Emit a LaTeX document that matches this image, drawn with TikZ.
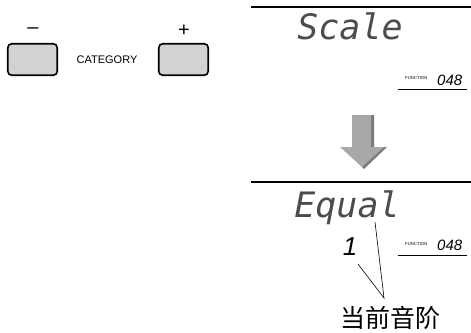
\documentclass[tikz,border=0pt]{standalone}
\usepackage{fontspec}
\setmainfont{Liberation Sans}
\newfontfamily\lcdfont{DejaVu Sans Mono}
\newfontfamily\cjk{Noto Sans CJK SC}
\usetikzlibrary{positioning}
\definecolor{btngray}{HTML}{D2D2D2}
\definecolor{arrowgray}{HTML}{A8A8A8}
\definecolor{arrowshade}{HTML}{7A7A7A}

\begin{document}
\begin{tikzpicture}[x=1pt, y=-1pt,
    btn/.style={draw, fill=btngray, line width=1.6pt, rounded corners=4pt,
                minimum width=49.5pt, minimum height=31.5pt},
    sign/.style={font=\fontsize{20}{20}\selectfont, inner sep=0pt},
    lcd/.style={text=black!70, font=\lcdfont\itshape\fontsize{35}{35}\selectfont,
                inner sep=0pt, anchor=base},
    fnword/.style={font=\fontsize{4.3}{4.3}\selectfont, inner sep=0pt, anchor=base west},
    fnnum/.style={font=\itshape\fontsize{15}{15}\selectfont, inner sep=0pt, anchor=base west},
  ]
  \useasboundingbox (0,0) rectangle (471,332);

  % buttons
  \node[btn] (minusbtn) at (32.5,59.5) {};
  \node[btn] (plusbtn) at (183.5,59.5) {};
  \node[sign] (minus) at (33,31) {–};
  \node[sign] (plus) at (184,31) {+};
  \node[font=\fontsize{11}{11}\selectfont, inner sep=0pt] (category) at (107,60) {CATEGORY};

  % first display
  \draw[line width=2pt] (251,7) -- (471,7);
  \node[lcd] (scale) at (350,39) {Scale};
  \node[fnword] (fn1) at (405,79.3) {FUNCTION};
  \node[fnnum] (num1) at (437,85) {048};
  \draw[line width=0.8pt] (398,89.3) -- (467,89.3);

  % arrow
  \fill[arrowshade] (355,115) -- (374,115) -- (374,147) -- (387,147) -- (364,169)
    -- (343,147) -- (355,147) -- cycle;
  \fill[arrowgray] (352,115) -- (371,115) -- (371,147) -- (384,147) -- (362,167)
    -- (340,147) -- (352,147) -- cycle;

  % second display
  \draw[line width=2pt] (251,182) -- (471,182);
  \node[lcd] (equal) at (347,217) {Equal};
  \node[font=\itshape\fontsize{26}{26}\selectfont, inner sep=0pt, anchor=base] (digit) at (350,255) {1};
  \node[fnword] (fn2) at (405,245.3) {FUNCTION};
  \node[fnnum] (num2) at (437,250.7) {048};
  \draw[line width=0.8pt] (398,255.7) -- (467,255.7);

  % callout
  \coordinate (eqmark) at (375,222);
  \coordinate (onemark) at (358,264);
  \coordinate (calltip) at (384,298);
  \draw[line width=0.6pt] (eqmark) -- (calltip) -- (onemark);
  \node[font=\cjk\fontsize{25}{25}\selectfont, inner sep=0pt] (current) at (390,318) {当前音阶};
\end{tikzpicture}
\end{document}
